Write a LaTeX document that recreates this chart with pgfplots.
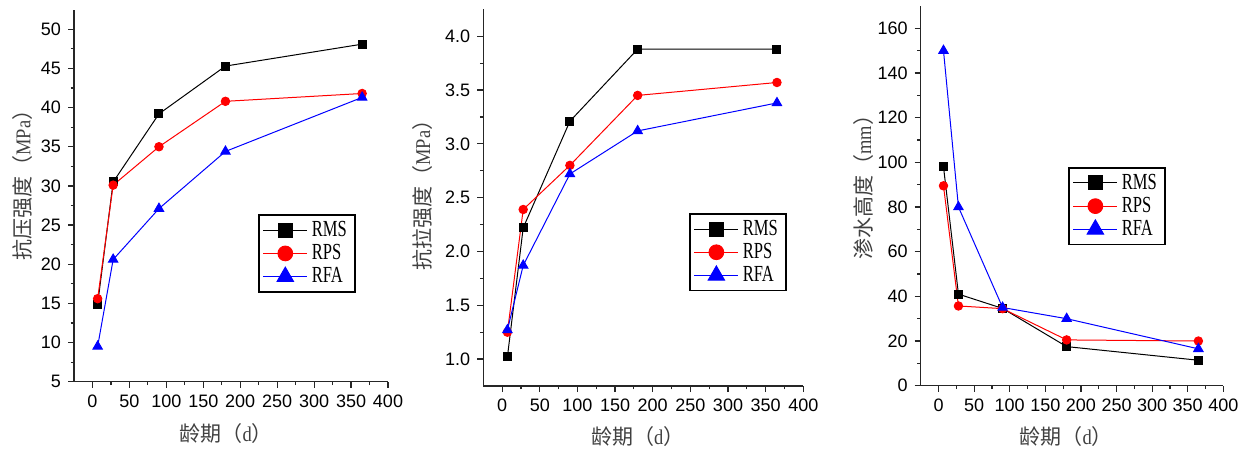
\documentclass[border=0pt]{standalone}
\usepackage{fontspec}
\usepackage{pgfplots}
\pgfplotsset{compat=1.18}
\setmainfont{Liberation Sans}
\newfontfamily\cjk{Noto Sans CJK SC}
\newfontfamily\serifc[FakeStretch=0.72]{Liberation Serif}
\newfontfamily\serifl[FakeStretch=0.88]{Liberation Serif}

% common look of the three panels
\pgfplotsset{
  panel/.style={
    scale only axis,
    axis lines*=left,
    axis line style={-, line width=0.6pt, black!85},
    tick align=outside,
    major tick length=3pt,
    minor tick length=1.7pt,
    minor tick num=1,
    every tick/.style={black!85, line width=0.6pt},
    tick label style={font=\fontsize{9}{10}\selectfont},
    /pgf/number format/assume math mode=true,
    xmin=-25, xmax=400,
    xtick={0,50,...,400},
    clip=false,
    label style={font=\fontsize{10.5}{12}\selectfont, text=black!75},
    legend style={draw=black, line width=0.8pt, fill=white,
      font=\fontsize{11.5}{13}\selectfont\serifc,
      inner xsep=2pt, inner ysep=1pt, row sep=-1.5pt, cells={anchor=west}},
    legend image code/.code={
      \draw[mark repeat=2, mark phase=2, #1, every mark/.append style={scale=1.75}]
        plot coordinates {(0pt,0pt) (11pt,0pt) (22pt,0pt)};},
  },
  rms/.style={black, line width=0.5pt, mark=square*, mark size=2pt, mark options={solid, fill=black}},
  rps/.style={red, line width=0.5pt, mark=*, mark size=2.1pt, mark options={solid, fill=red}},
  rfa/.style={blue, line width=0.5pt, mark=triangle*, mark size=2.7pt, mark options={solid, fill=blue}},
}

\begin{document}
\begin{tikzpicture}
\useasboundingbox (0,0) rectangle (623.5pt,225pt);

% compressive strength
\begin{axis}[panel,
  at={(37pt,34.15pt)}, anchor=south west,
  width=157pt, height=186pt,
  ymin=5, ymax=52.5, ytick={5,10,...,50},
  xlabel={\cjk 龄期（{\serifl d}）},
  ylabel={\cjk 抗压强度（{\serifl MPa}）},
  xlabel style={at={(axis description cs:0.485,-0.138)}, anchor=center},
  ylabel style={at={(axis description cs:-0.164,0.542)}, anchor=center},
  legend style={at={(0.586,0.45)}, anchor=north west},
]
\addplot[rms] coordinates {(7,14.9) (28,30.5) (90,39.2) (180,45.3) (365,48.1)};
\addplot[rps] coordinates {(7,15.6) (28,30.1) (90,35.0) (180,40.8) (365,41.8)};
\addplot[rfa] coordinates {(7,9.5) (28,20.6) (90,27.1) (180,34.4) (365,41.3)};
\legend{RMS,RPS,RFA}
\end{axis}

% tensile strength
\begin{axis}[panel,
  at={(241.65pt,32pt)}, anchor=south west,
  width=160pt, height=188.35pt,
  ymin=0.75, ymax=4.25, ytick={1,1.5,...,4},
  yticklabel style={/pgf/number format/.cd, fixed, fixed zerofill, precision=1},
  xlabel={\cjk 龄期（{\serifl d}）},
  ylabel={\cjk 抗拉强度（{\serifl MPa}）},
  xlabel style={at={(axis description cs:0.483,-0.135)}, anchor=center},
  ylabel style={at={(axis description cs:-0.191,0.52)}, anchor=center},
  legend style={at={(0.643,0.459)}, anchor=north west},
]
\addplot[rms] coordinates {(7,1.02) (28,2.22) (90,3.21) (180,3.88) (365,3.88)};
\addplot[rps] coordinates {(7,1.25) (28,2.39) (90,2.80) (180,3.45) (365,3.57)};
\addplot[rfa] coordinates {(7,1.27) (28,1.87) (90,2.72) (180,3.12) (365,3.38)};
\legend{RMS,RPS,RFA}
\end{axis}

% water penetration height
\begin{axis}[panel,
  at={(460.35pt,32.15pt)}, anchor=south west,
  width=151.3pt, height=189.85pt,
  ymin=0, ymax=170, ytick={0,20,...,160},
  xlabel={\cjk 龄期（{\serifl d}）},
  ylabel={\cjk 渗水高度（{\serifl mm}）},
  xlabel style={at={(axis description cs:0.481,-0.134)}, anchor=center},
  ylabel style={at={(axis description cs:-0.19,0.536)}, anchor=center},
  legend style={at={(0.487,0.576)}, anchor=north west},
]
\addplot[rms] coordinates {(7,98) (28,41) (90,34.6) (180,17.5) (365,11.4)};
\addplot[rps] coordinates {(7,89.5) (28,35.7) (90,34.5) (180,20.5) (365,20)};
\addplot[rfa] coordinates {(7,150) (28,80) (90,35) (180,30) (365,16.5)};
\legend{RMS,RPS,RFA}
\end{axis}
\end{tikzpicture}
\end{document}
